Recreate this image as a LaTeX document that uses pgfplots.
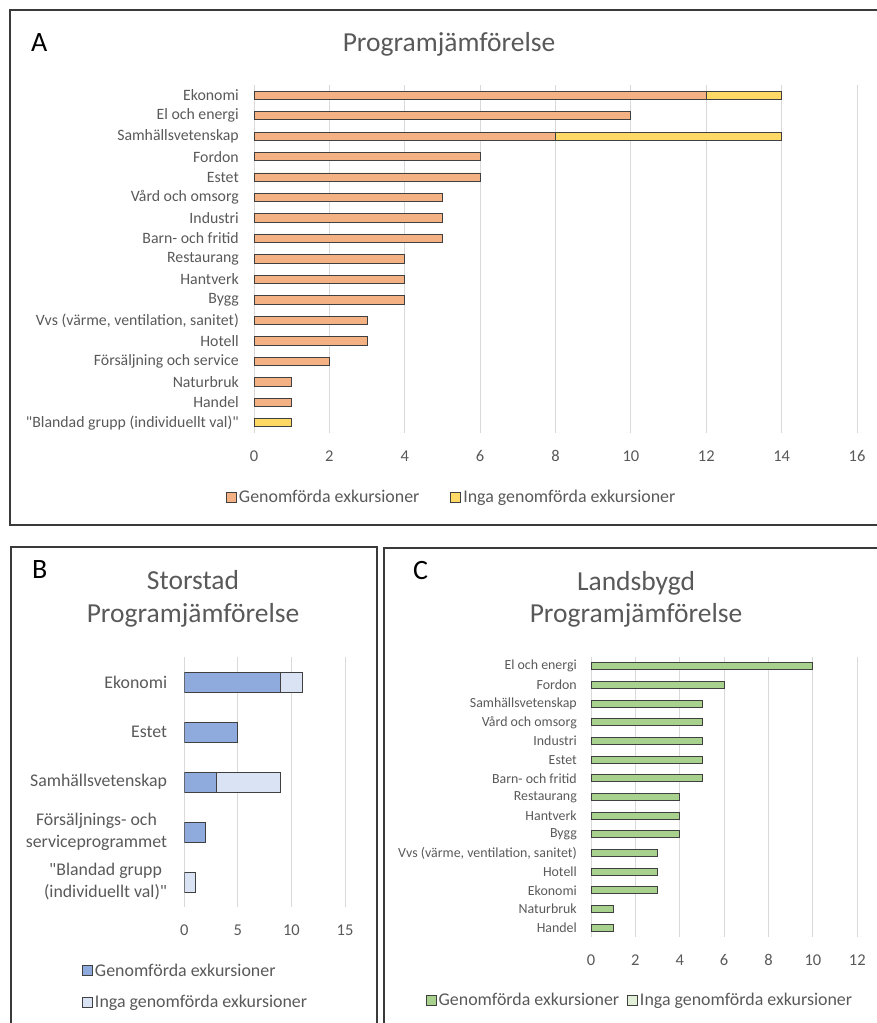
\documentclass[border=0pt]{standalone}
\usepackage{fontspec}
\setmainfont{Carlito}[Ligatures=TeXOff]
\usepackage{pgfplots}
\pgfplotsset{compat=1.18}
\definecolor{txtgray}{HTML}{595959}
\definecolor{gridgray}{HTML}{D9D9D9}
\definecolor{barline}{HTML}{404040}
\definecolor{framegray}{HTML}{3A3A3A}
\definecolor{orangeA}{HTML}{F4B183}
\definecolor{yellowA}{HTML}{FFD966}
\definecolor{blueB}{HTML}{8FAADC}
\definecolor{lblueB}{HTML}{DAE3F3}
\definecolor{greenC}{HTML}{A9D18E}
\definecolor{lgreenC}{HTML}{E2F0D9}
\pgfplotsset{
  common/.style={
    scale only axis, enlargelimits=false, xbar stacked,
    axis line style={draw=none}, major tick length=0pt,
    xmajorgrids, grid style={gridgray, line width=0.9bp},
    /pgf/number format/assume math mode=true,
    tick label style={text=txtgray},
    xticklabel style={anchor=center, yshift=-23bp, font=\fontsize{16.5bp}{18bp}\selectfont},
    yticklabel style={anchor=east, inner sep=0pt},
    legend image code/.code={\draw[##1, draw=barline, line width=0.8bp] (0bp,-5bp) rectangle (10bp,5bp);},
    legend cell align=left,
    legend style={draw=none, fill=none, inner sep=0pt, text=txtgray,
      font=\fontsize{17.9bp}{20bp}\selectfont},
    every axis plot/.append style={draw=barline, line width=0.9bp},
  }
}
\pgfplotstableread{
idx gen inga
0  0 1
1  1 0
2  1 0
3  2 0
4  3 0
5  3 0
6  4 0
7  4 0
8  4 0
9  5 0
10 5 0
11 5 0
12 6 0
13 6 0
14 8 6
15 10 0
16 12 2
}\dataA
\pgfplotstableread{
idx gen inga
0 0 1
1 2 0
2 3 6
3 5 0
4 9 2
}\dataB
\pgfplotstableread{
idx gen
0  1
1  1
2  3
3  3
4  3
5  4
6  4
7  4
8  5
9  5
10 5
11 5
12 5
13 6
14 10
}\dataC
\begin{document}
\begin{tikzpicture}
\path[use as bounding box] (0bp,0bp) rectangle (877bp,1023bp);
% frames
\draw[framegray, line width=1.6bp] (10bp,1013bp) rectangle (895bp,498bp);
\draw[framegray, line width=1.4bp] (11bp,-10bp) rectangle (377bp,476bp);
\draw[framegray, line width=1.4bp] (384bp,-10bp) rectangle (895bp,475bp);
% titles
\node[anchor=base, inner sep=0pt, text=txtgray, font=\fontsize{27.5bp}{33bp}\selectfont] at (449bp,971bp) {Programjämförelse};
\node[anchor=base west, inner sep=0pt, font=\fontsize{28bp}{33bp}\selectfont] at (31bp,971bp) {A};
\node[anchor=base, inner sep=0pt, text=txtgray, font=\fontsize{27.5bp}{33bp}\selectfont] at (193bp,433bp) {Storstad};
\node[anchor=base, inner sep=0pt, text=txtgray, font=\fontsize{27.5bp}{33bp}\selectfont] at (193bp,400bp) {Programjämförelse};
\node[anchor=base west, inner sep=0pt, font=\fontsize{28bp}{33bp}\selectfont] at (32bp,444bp) {B};
\node[anchor=base, inner sep=0pt, text=txtgray, font=\fontsize{27.5bp}{33bp}\selectfont] at (636bp,432bp) {Landsbygd};
\node[anchor=base, inner sep=0pt, text=txtgray, font=\fontsize{27.5bp}{33bp}\selectfont] at (636bp,400bp) {Programjämförelse};
\node[anchor=base west, inner sep=0pt, font=\fontsize{28bp}{33bp}\selectfont] at (413bp,443bp) {C};
% Panel A
\begin{axis}[common,
  at={(254bp,590bp)}, anchor=south west,
  width=603bp, height=348bp,
  xmin=0, xmax=16, xtick={0,2,...,16},
  ymin=-0.5, ymax=16.5, ytick={0,...,16},
  bar width=8.3bp,
  yticklabels={{"Blandad grupp (individuellt val)"},Handel,Naturbruk,{Försäljning och service},Hotell,{Vvs (värme, ventilation, sanitet)},Bygg,Hantverk,Restaurang,{Barn- och fritid},Industri,{Vård och omsorg},Estet,Fordon,Samhällsvetenskap,{El och energi},Ekonomi},
  yticklabel style={xshift=-15bp, font=\fontsize{15.8bp}{18bp}\selectfont},
  legend columns=2,
  legend style={at={(0.328,-0.184)}, anchor=center,
    /tikz/every even column/.append style={column sep=29bp}},
]
\addplot[fill=orangeA] table[x=gen, y=idx] {\dataA};
\addplot[fill=yellowA] table[x=inga, y=idx] {\dataA};
\legend{Genomförda exkursioner, Inga genomförda exkursioner}
\end{axis}
% Panel B
\begin{axis}[common,
  at={(184.3bp,116bp)}, anchor=south west,
  width=160.7bp, height=250bp,
  xmin=0, xmax=15, xtick={0,5,10,15},
  ymin=-0.5, ymax=4.5, ytick={0,...,4},
  bar width=20bp,
  yticklabels={{"Blandad grupp\\(individuellt val)"},{Försäljnings- och\\serviceprogrammet},Samhällsvetenskap,Estet,Ekonomi},
  yticklabel style={xshift=-17bp, align=center, font=\fontsize{17.8bp}{22bp}\selectfont},
  legend columns=1,
  legend style={at={(-0.6366,-0.318)}, anchor=west, row sep=14bp},
]
\addplot[fill=blueB] table[x=gen, y=idx] {\dataB};
\addplot[fill=lblueB] table[x=inga, y=idx] {\dataB};
\legend{Genomförda exkursioner, Inga genomförda exkursioner}
\end{axis}
% Panel C
\begin{axis}[common,
  at={(591bp,86bp)}, anchor=south west,
  width=266.3bp, height=280bp,
  xmin=0, xmax=12, xtick={0,2,...,12},
  ymin=-0.5, ymax=14.5, ytick={0,...,14},
  bar width=7bp,
  yticklabels={Handel,Naturbruk,Ekonomi,Hotell,{Vvs (värme, ventilation, sanitet)},Bygg,Hantverk,Restaurang,{Barn- och fritid},Estet,Industri,{Vård och omsorg},Samhällsvetenskap,Fordon,{El och energi}},
  yticklabel style={xshift=-14bp, font=\fontsize{13.9bp}{16bp}\selectfont},
  legend columns=2,
  legend style={at={(0.184,-0.225)}, anchor=center,
    /tikz/every even column/.append style={column sep=6bp}},
]
\addplot[fill=greenC] table[x=gen, y=idx] {\dataC};
\addlegendentry{Genomförda exkursioner}
\addlegendimage{fill=lgreenC}
\addlegendentry{Inga genomförda exkursioner}
\end{axis}
\end{tikzpicture}
\end{document}
